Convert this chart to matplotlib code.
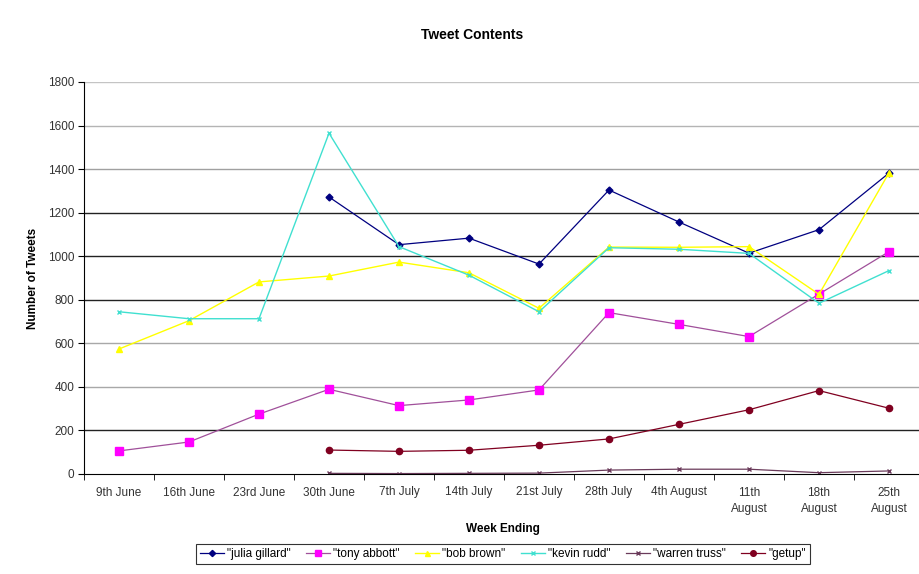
import numpy as np
import matplotlib
matplotlib.use("Agg")
from matplotlib import pyplot as plt

weeks = ["9th June", "16th June", "23rd June", "30th June", "7th July", "14th July",
         "21st July", "28th July", "4th August", "11th\nAugust", "18th\nAugust", "25th\nAugust"]

nan = np.nan
julia_gillard = [nan, nan, nan, 1272, 1053, 1083, 964, 1304, 1157, 1014, 1122, 1382]
tony_abbott = [106, 147, 275, 389, 314, 340, 386, 741, 687, 631, 826, 1021]
bob_brown = [574, 704, 882, 909, 973, 924, 761, 1042, 1041, 1044, 825, 1383]
kevin_rudd = [745, 713, 713, 1565, 1044, 913, 745, 1039, 1032, 1013, 784, 934]
warren_truss = [nan, nan, nan, 3, 2, 3, 4, 18, 22, 22, 6, 14]
getup = [nan, nan, nan, 110, 104, 109, 132, 161, 228, 295, 383, 302]

plt.rcParams['font.family'] = ['Liberation Sans', 'DejaVu Sans']

fig = plt.figure(figsize=(9.19, 5.74), dpi=100)
ax = fig.add_axes([84/919, 100/574, 840/919, 392/574])

x = np.arange(len(weeks))

# gridlines (dark / light as in the scanned chart)
grid_cols = {200: '#222222', 400: '#a8a8a8', 600: '#a8a8a8', 800: '#222222',
             1000: '#222222', 1200: '#222222', 1400: '#a0a0a0', 1600: '#b4b4b4', 1800: '#c4c4c4'}
for yv, c in grid_cols.items():
    ax.axhline(yv, color=c, lw=1.0, zorder=0)

ax.plot(x, julia_gillard, color='#000080', lw=0.9, marker='D', ms=3.5, label='"julia gillard"')
ax.plot(x, tony_abbott, color='#a0509a', lw=0.9, marker='s', ms=5.5, mfc='#ff00ff', mec='#ff00ff', label='"tony abbott"')
ax.plot(x, bob_brown, color='#ffff00', lw=1.0, marker='^', ms=4, label='"bob brown"')
ax.plot(x, kevin_rudd, color='#40e0d0', lw=1.0, marker='x', ms=3.5, label='"kevin rudd"')
ax.plot(x, warren_truss, color='#6a3a5a', lw=0.9, marker='x', ms=3.5, label='"warren truss"')
ax.plot(x, getup, color='#800020', lw=0.9, marker='o', ms=4.5, label='"getup"')

ax.set_xlim(-0.5, 11.5)
ax.set_ylim(0, 1800)
ax.set_yticks(np.arange(0, 1801, 200))
ax.set_xticks(x)
ax.set_xticklabels(weeks, fontsize=8.5, color='#333333', linespacing=1.5)
ax.set_xticks(np.arange(-0.5, 11.6, 1), minor=True)
ax.tick_params(axis='x', which='major', length=0, pad=9)
ax.tick_params(axis='x', which='minor', length=4, direction='out', color='black')
ax.tick_params(axis='y', length=4, direction='out', labelsize=8.5, labelcolor='#333333', pad=3)

for s in ['top', 'right']:
    ax.spines[s].set_visible(False)
ax.spines['left'].set_color('black')
ax.spines['bottom'].set_color('black')

fig.text(472/919, 1 - 35/574, 'Tweet Contents', ha='center', va='center', fontsize=10, fontweight='bold')
fig.text(33/919, 1 - 278/574, 'Number of Tweets', ha='center', va='center', rotation=90, fontsize=8.5, fontweight='bold')
fig.text(503/919, 1 - 529/574, 'Week Ending', ha='center', va='center', fontsize=8.5, fontweight='bold')

leg = fig.legend(loc='center', bbox_to_anchor=(503/919, 1 - 554/574), ncol=6, fontsize=8.5,
                 frameon=True, fancybox=False, edgecolor='black', handlelength=2.0,
                 handletextpad=0.3, columnspacing=1.3, borderpad=0.3, markerscale=0.9)
leg.get_frame().set_linewidth(0.8)

fig.savefig('out.png', dpi=100)
